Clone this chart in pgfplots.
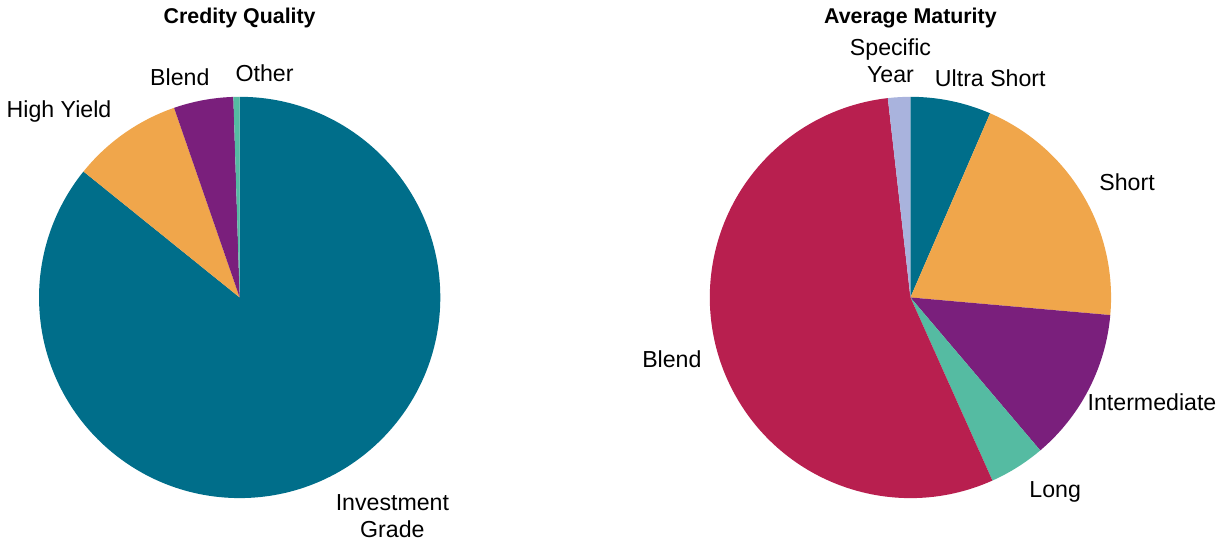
\documentclass[border=0pt]{standalone}
\usepackage{fontspec}
\setmainfont{Liberation Sans}
\usepackage{pgfplots}
\pgfplotsset{compat=1.18}

\definecolor{cteal}{HTML}{006E8A}
\definecolor{corange}{HTML}{F0A64B}
\definecolor{cpurple}{HTML}{7A1F7C}
\definecolor{cgreen}{HTML}{55BBA2}
\definecolor{ccrimson}{HTML}{B81F4F}
\definecolor{clav}{HTML}{A9B3DD}

% one pie: centre x, centre y (axis units), radius (pt), list value/colour clockwise from the top
\newcommand\pie[4]{%
  \pgfplotsextra{%
    \gdef\cum{0}%
    \foreach \v/\c in {#4} {%
      \pgfmathsetmacro\aone{90-3.6*\cum}%
      \pgfmathsetmacro\atwo{90-3.6*(\cum+\v)}%
      \fill[\c] (axis cs:#1,#2) -- ++(\aone:#3) arc[start angle=\aone, end angle=\atwo, radius=#3] -- cycle;
      \pgfmathsetmacro\newcum{\cum+\v}%
      \xdef\cum{\newcum}%
    }%
  }%
}

\tikzset{lbl/.style={font=\fontsize{11.6}{13.4}\selectfont, align=center},
         ttl/.style={font=\fontsize{10.7}{12}\selectfont\bfseries}}

\begin{document}
\begin{tikzpicture}
\begin{axis}[
    x=0.5pt, y=0.5pt,
    xmin=0, xmax=1223, ymin=0, ymax=541,
    hide axis, clip=false,
]
\path (axis cs:0,0) (axis cs:1223,541);

% Credity Quality: Investment Grade, High Yield, Blend, Other
\pie{238}{243}{100.5pt}{85.8/cteal, 8.9/corange, 4.8/cpurple, 0.5/cgreen}
% Average Maturity: Ultra Short, Short, Intermediate, Long, Blend, Specific Year
\pie{910}{243}{100.5pt}{6.5/cteal, 19.9/corange, 12.4/cpurple, 4.5/cgreen, 54.9/ccrimson, 1.8/clav}

\node[ttl] at (axis cs:238,523) {Credity Quality};
\node[ttl] at (axis cs:910,523) {Average Maturity};

\node[lbl] at (axis cs:57,429) {High Yield};
\node[lbl] at (axis cs:178,464) {Blend};
\node[lbl] at (axis cs:263,468) {Other};
\node[lbl] at (axis cs:391,24) {Investment\\Grade};

\node[lbl] at (axis cs:890,480) {Specific\\Year};
\node[lbl] at (axis cs:990,463) {Ultra Short};
\node[lbl] at (axis cs:1127,358) {Short};
\node[lbl] at (axis cs:1152,138) {Intermediate};
\node[lbl] at (axis cs:1055,48) {Long};
\node[lbl] at (axis cs:671,181) {Blend};
\end{axis}
\end{tikzpicture}
\end{document}
